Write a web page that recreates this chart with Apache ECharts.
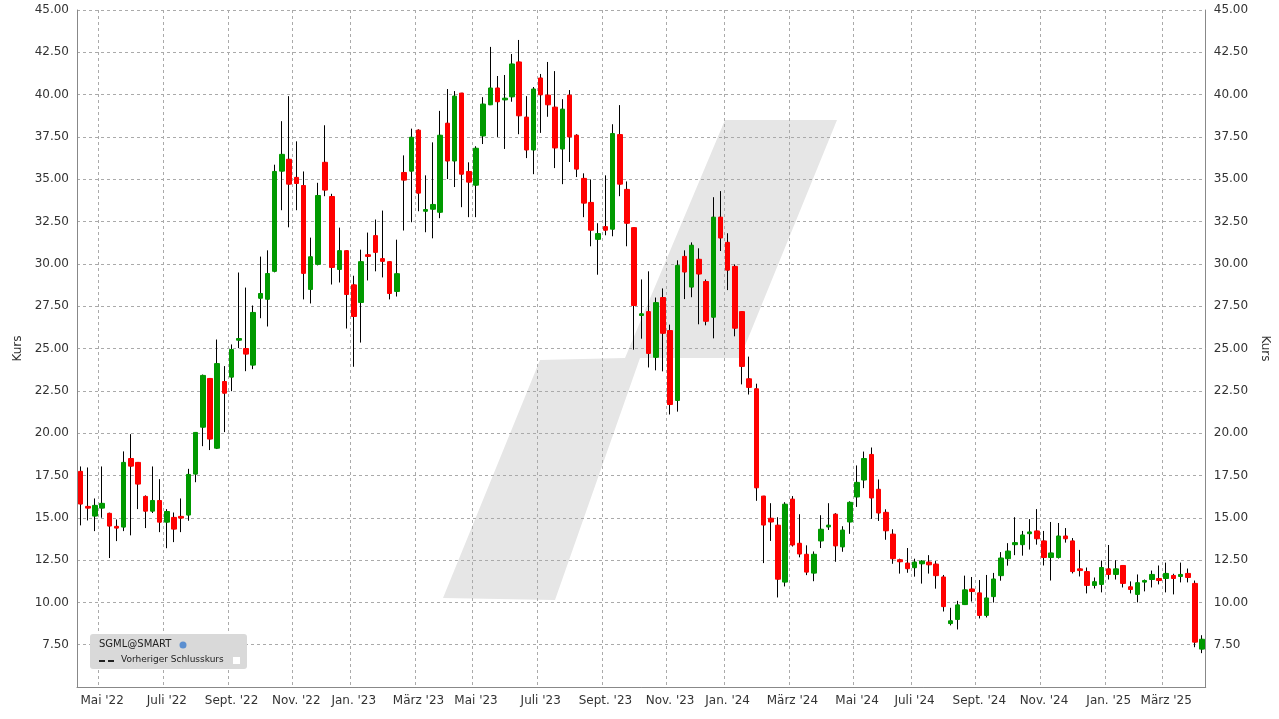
<!DOCTYPE html>
<html>
<head>
<meta charset="utf-8">
<script src="https://cdn.jsdelivr.net/npm/echarts@6/dist/echarts.min.js"></script>
<style>
html, body { margin: 0; padding: 0; background: #fff; }
#chart { width: 1279px; height: 719px; }
</style>
</head>
<body>
<div id="chart"></div>
<script>
// weekly candles, first week starts Mon 2022-04-11
var startDate = Date.UTC(2022, 3, 11);
var opens = [17.74,15.67,15.10,15.57,15.26,14.49,14.45,18.50,18.27,16.26,15.39,16.02,14.74,15.02,15.08,15.16,17.58,20.35,23.23,19.11,
    23.05,23.31,25.49,25.00,24.02,27.97,27.91,29.56,35.48,36.18,35.11,34.63,28.49,29.97,36.00,33.98,29.67,30.78,28.76,27.72,
    30.54,31.67,30.31,30.13,28.37,35.40,35.48,37.90,33.11,33.23,33.05,38.31,36.08,40.09,35.46,34.65,37.56,39.40,40.39,39.69,
    39.87,41.93,38.67,36.73,40.98,39.97,39.26,36.79,39.97,37.60,35.05,33.63,31.45,32.20,32.05,37.64,34.40,32.14,26.95,27.18,
    24.48,28.01,26.06,21.93,30.44,28.63,30.27,28.96,26.85,32.76,31.27,29.85,27.18,23.21,22.62,16.28,14.97,14.56,11.20,16.10,
    13.49,12.84,11.73,13.63,14.46,15.21,13.28,14.75,16.23,17.23,18.74,16.68,15.32,14.03,12.52,12.32,12.05,12.28,12.38,12.26,
    11.50,8.75,8.99,9.87,10.79,10.56,9.23,10.34,11.58,12.58,13.41,13.41,14.06,14.22,13.63,12.65,12.65,13.92,13.63,11.98,
    11.82,11.00,11.06,11.98,11.65,12.18,10.92,10.47,11.20,11.35,11.41,11.41,11.59,11.53,11.71,11.12,7.24];
var closes = [15.81,15.57,15.73,15.85,14.51,14.39,18.27,18.05,16.99,15.39,16.02,14.74,15.37,14.33,14.98,17.56,20.04,23.41,19.65,24.11,
    22.36,24.94,25.59,24.67,27.13,28.25,29.43,35.46,36.47,34.71,34.75,29.44,30.42,34.04,34.36,29.79,30.78,28.19,26.89,30.13,
    30.44,30.68,30.15,28.25,29.42,34.95,37.48,34.18,33.21,33.51,37.60,36.08,39.91,35.30,34.83,36.83,39.44,40.39,39.58,39.79,
    41.81,38.75,36.73,40.33,39.99,39.40,36.85,39.14,37.50,35.60,33.59,31.99,31.79,31.99,37.70,34.71,32.40,27.54,27.05,24.71,
    27.71,25.90,21.69,29.91,29.52,31.10,29.40,26.61,32.76,31.53,29.63,26.20,23.94,22.70,16.77,14.57,14.75,11.37,15.80,13.39,
    12.86,11.79,12.84,14.32,14.56,13.34,14.27,15.91,17.09,18.50,16.17,15.28,14.23,12.58,12.40,11.99,12.38,12.44,12.22,11.58,
    9.75,8.91,9.85,10.74,10.64,9.23,10.26,11.38,12.62,13.03,13.53,13.98,14.16,13.76,12.65,12.92,13.92,13.76,11.82,11.88,
    11.00,11.22,12.06,11.65,11.98,11.12,10.76,11.16,11.29,11.65,11.29,11.71,11.41,11.65,11.47,7.65,7.82];
var lows = [14.55,14.84,14.21,15.00,12.62,13.62,14.21,13.96,15.51,14.39,15.28,14.15,13.20,13.56,14.15,14.82,17.10,19.23,19.00,19.06,
    20.06,22.48,25.02,23.66,23.78,26.79,26.30,29.50,33.17,32.16,33.17,27.90,27.66,29.91,34.00,28.78,28.90,26.18,23.92,25.35,
    29.02,29.56,29.20,27.90,28.07,31.97,32.46,33.11,31.87,31.51,32.70,35.01,34.54,33.35,32.76,32.76,37.08,39.40,37.50,36.79,
    39.58,37.66,36.25,35.30,37.74,38.69,35.66,34.71,36.02,35.13,32.76,31.04,29.36,31.69,31.63,34.00,31.04,24.93,25.58,23.88,
    23.71,23.65,21.10,21.27,27.92,28.03,26.43,26.37,25.60,30.76,28.45,25.72,22.88,22.28,16.00,12.32,13.63,10.29,10.94,13.30,
    12.66,11.61,11.25,13.21,14.28,12.40,12.99,14.05,15.64,16.75,14.93,14.81,13.70,12.28,11.70,11.75,11.52,11.11,11.70,10.81,
    9.46,8.64,8.40,9.87,10.05,9.05,9.11,9.99,11.28,12.17,12.79,12.76,13.12,13.41,12.18,11.29,12.59,13.53,11.71,11.53,
    10.53,10.82,10.59,11.35,11.35,10.88,10.53,10.00,10.65,10.88,11.06,10.59,10.47,11.18,11.18,7.35,7.00];
var highs = [18.03,17.97,16.14,18.03,15.30,14.90,18.92,19.94,18.27,16.32,18.03,17.28,15.51,15.31,16.14,17.89,20.04,23.46,23.23,25.53,
    23.96,25.24,29.49,28.60,27.54,30.43,30.80,35.86,38.43,39.91,37.24,35.46,31.55,34.79,38.19,34.14,32.14,30.78,29.30,30.84,
    31.85,32.62,33.15,30.13,31.43,36.41,37.99,37.95,35.23,37.18,39.04,40.33,40.21,40.09,36.00,36.95,39.85,42.82,41.10,41.16,
    42.40,43.23,39.91,40.45,41.22,41.93,41.39,39.73,40.27,37.66,35.35,34.99,32.40,35.23,38.25,39.38,34.87,32.14,29.08,29.56,
    28.01,28.55,26.41,30.21,30.80,31.27,30.92,29.08,33.94,34.30,31.81,29.97,27.18,24.52,22.92,16.28,15.86,15.03,15.92,16.28,
    15.21,13.37,13.01,15.15,15.86,15.27,14.50,15.97,18.09,18.91,19.15,17.26,15.50,14.32,12.58,13.21,12.58,12.50,12.79,12.44,
    11.62,9.68,10.09,11.58,11.50,11.32,11.62,11.74,12.97,13.50,15.03,14.22,14.92,15.51,14.22,14.75,14.69,14.39,13.80,13.10,
    12.06,11.47,12.47,13.39,12.49,12.18,11.24,11.65,11.35,11.88,12.18,12.35,11.69,12.35,12.00,11.29,8.06];
var monthNames = ['Jan.', 'Feb.', 'März', 'Apr.', 'Mai', 'Juni', 'Juli', 'Aug.', 'Sept.', 'Okt.', 'Nov.', 'Dez.'];

var weeks = [];
var labelAt = {};
var prevMonth = -1;
for (var i = 0; i < opens.length; i++) {
    var d = new Date(startDate + i * 7 * 86400000);
    var m = d.getUTCMonth();
    weeks.push(d.toISOString().slice(0, 10));
    if (m !== prevMonth && m % 2 === 0) {
        labelAt[i] = monthNames[m] + " '" + String(d.getUTCFullYear()).slice(2);
    }
    prevMonth = m;
}

var wickData = [];
var bodyData = [];
for (var i = 0; i < opens.length; i++) {
    wickData.push([opens[i], closes[i], lows[i], highs[i]]);
    bodyData.push([opens[i], closes[i], Math.min(opens[i], closes[i]), Math.max(opens[i], closes[i])]);
}

function showTick(idx) {
    return labelAt.hasOwnProperty(idx);
}

var chart = echarts.init(document.getElementById('chart'));
var yAxisBase = {
    type: 'value',
    min: 5,
    max: 45,
    interval: 2.5,
    name: 'Kurs',
    nameLocation: 'middle',
    nameTextStyle: { color: '#333', fontSize: 12, fontFamily: 'DejaVu Sans' },
    axisLine: { show: true, lineStyle: { color: '#888' } },
    axisTick: { show: false },
    axisLabel: {
        color: '#333', fontSize: 12, fontFamily: 'DejaVu Sans',
        formatter: function (v) { return v < 7 ? '' : v.toFixed(2); }
    }
};
var option = {
    animation: false,
    grid: { left: 77, right: 64, top: 10, bottom: 32 },
    graphic: {
        elements: [
            {
                type: 'polygon', z: -10, silent: true,
                shape: { points: [[443, 598], [540, 360], [625, 358], [725, 120], [837, 120], [740, 358], [640, 358], [555, 600]] },
                style: { fill: '#e6e6e6' }
            },
            {
                type: 'rect', left: 90, top: 634, z: 100,
                shape: { width: 157, height: 35, r: 3 },
                style: { fill: '#d9d9d9' }
            },
            {
                type: 'text', left: 99, top: 639, z: 101,
                style: { text: 'SGML@SMART', fill: '#222', font: '10px "DejaVu Sans"' }
            },
            {
                type: 'circle', z: 101,
                shape: { cx: 183, cy: 645, r: 3.5 },
                style: { fill: '#5b8fd0' }
            },
            {
                type: 'line', z: 101,
                shape: { x1: 99, y1: 661, x2: 117, y2: 661 },
                style: { stroke: '#222', lineWidth: 2, lineDash: [6, 3] }
            },
            {
                type: 'text', left: 121, top: 655, z: 101,
                style: { text: 'Vorheriger Schlusskurs', fill: '#222', font: '9px "DejaVu Sans"' }
            },
            {
                type: 'rect', left: 233, top: 657, z: 101,
                shape: { width: 7, height: 7 },
                style: { fill: '#fff' }
            }
        ]
    },
    xAxis: {
        type: 'category',
        data: weeks,
        boundaryGap: true,
        axisLine: { lineStyle: { color: '#888' } },
        axisTick: { show: false },
        axisLabel: {
            interval: showTick,
            color: '#333', fontSize: 12, fontFamily: 'DejaVu Sans',
            formatter: function (v, idx) { return labelAt[idx] || ''; }
        },
        splitLine: { show: true, interval: showTick, lineStyle: { color: '#aaa', type: [3, 3] } }
    },
    yAxis: [
        Object.assign({}, yAxisBase, {
            position: 'left', nameGap: 44, nameRotate: 90,
            splitLine: { show: true, lineStyle: { color: '#aaa', type: [3, 3] } }
        }),
        Object.assign({}, yAxisBase, {
            position: 'right', nameGap: 48, nameRotate: -90,
            splitLine: { show: false }
        })
    ],
    series: [
        {
            name: 'Docht',
            type: 'candlestick',
            data: wickData,
            barWidth: 1.5,
            itemStyle: { color: '#000', color0: '#000', borderColor: '#000', borderColor0: '#000', borderWidth: 1 }
        },
        {
            name: 'SGML@SMART',
            type: 'candlestick',
            data: bodyData,
            barWidth: 5,
            z: 3,
            itemStyle: { color: '#009a00', color0: '#ff0000', borderColor: '#009a00', borderColor0: '#ff0000', borderWidth: 1 }
        }
    ]
};
chart.setOption(option);
</script>
</body>
</html>
